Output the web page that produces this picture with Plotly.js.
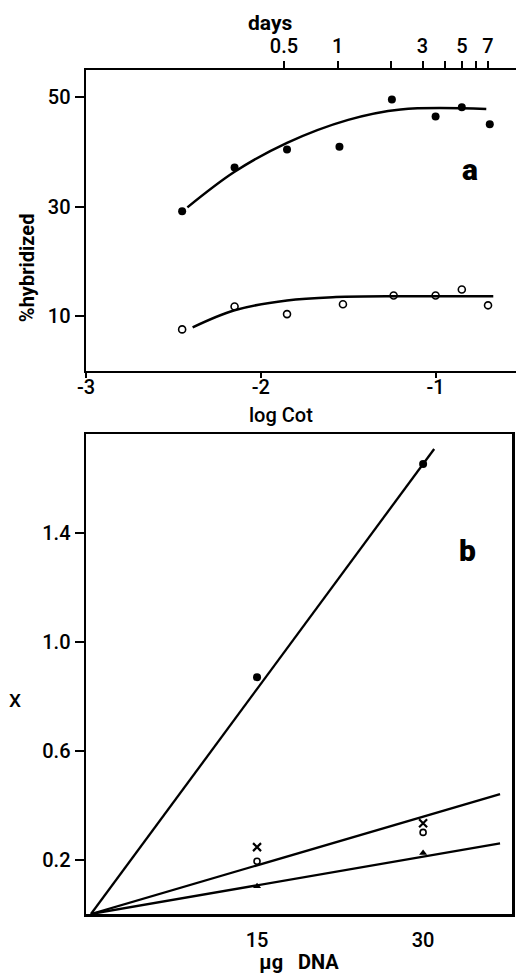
<!DOCTYPE html>
<html>
<head>
<meta charset="utf-8">
<script src="https://cdn.plot.ly/plotly-3.0.1.min.js"></script>
<style>html,body{margin:0;padding:0;background:#fff;}#chart{width:516px;height:974px;}</style>
</head>
<body>
<div id="chart"></div>
<script>
// ---- Panel a: hybridization vs log Cot ----
const logCotFilled = [-2.45, -2.15, -1.85, -1.55, -1.25, -1.0, -0.85, -0.69];
const hybFilled    = [29.2, 37.2, 40.5, 41.0, 49.6, 46.5, 48.2, 45.1];
const logCotOpen   = [-2.45, -2.15, -1.85, -1.53, -1.24, -1.0, -0.85, -0.70];
const hybOpen      = [7.6, 11.8, 10.4, 12.2, 13.8, 13.8, 14.9, 12.0];
const curveFilledX = [-2.42, -2.15, -1.85, -1.50, -1.20, -0.71];
const curveFilledY = [29.9, 36.4, 41.7, 45.9, 47.8, 47.9];
const curveOpenX   = [-2.39, -2.15, -1.85, -1.57, -1.19, -0.67];
const curveOpenY   = [7.97, 11.1, 12.9, 13.5, 13.65, 13.65];
const logCotTicks  = [-3, -2, -1];
const logCotLabels = ["-3", "-2", "-1"];
const hybTicks     = [10, 30, 50];
const hybLabels    = ["10", "30", "50"];
const dayTicks     = [0.5, 1, 2, 3, 4, 5, 6, 7];
const dayLabels    = ["0.5", "1", "", "3", "", "5", "", "7"];

// ---- Panel b: X vs µg DNA ----
const dnaX          = [15, 30];
const filledCircleY = [0.871, 1.655];
const crossY        = [0.246, 0.334];
const openCircleY   = [0.194, 0.300];
const triangleY     = [0.102, 0.224];
const steepLineX = [0, 31.0],  steepLineY = [0, 1.71];
const midLineX   = [0, 36.95], midLineY   = [0, 0.441];
const lowLineX   = [0, 36.95], lowLineY   = [0, 0.26];
const dnaTicks   = [15, 30];
const dnaLabels  = ["15", "30"];
const xTicks     = [0.2, 0.6, 1.0, 1.4];
const xLabels    = ["0.2", "0.6", "1.0", "1.4"];

const FONT = "Roboto, Liberation Sans, Arial, sans-serif";
const tickFont = {family: FONT, size: 20, color: "#000", weight: 500};
const titleFont = {family: FONT, size: 20, color: "#000", weight: 700};

const traces = [
  {x: curveFilledX, y: curveFilledY, mode: "lines", line: {color: "#000", width: 2.5, shape: "spline", smoothing: 1}, xaxis: "x", yaxis: "y", hoverinfo: "skip"},
  {x: curveOpenX, y: curveOpenY, mode: "lines", line: {color: "#000", width: 2.5, shape: "spline", smoothing: 1}, xaxis: "x", yaxis: "y", hoverinfo: "skip"},
  {x: logCotFilled, y: hybFilled, mode: "markers", marker: {symbol: "circle", size: 8, color: "#000"}, xaxis: "x", yaxis: "y"},
  {x: logCotOpen, y: hybOpen, mode: "markers", marker: {symbol: "circle-open", size: 7, color: "#000", line: {width: 1.6, color: "#000"}}, xaxis: "x", yaxis: "y"},
  {x: dayTicks, y: dayTicks.map(() => null), mode: "markers", xaxis: "x2", yaxis: "y", hoverinfo: "skip"},
  // panel b
  {x: steepLineX, y: steepLineY, mode: "lines", line: {color: "#000", width: 2.3}, xaxis: "x3", yaxis: "y2", hoverinfo: "skip"},
  {x: midLineX, y: midLineY, mode: "lines", line: {color: "#000", width: 2.3}, xaxis: "x3", yaxis: "y2", hoverinfo: "skip"},
  {x: lowLineX, y: lowLineY, mode: "lines", line: {color: "#000", width: 2.3}, xaxis: "x3", yaxis: "y2", hoverinfo: "skip"},
  {x: dnaX, y: filledCircleY, mode: "markers", marker: {symbol: "circle", size: 8, color: "#000"}, xaxis: "x3", yaxis: "y2"},
  {x: dnaX, y: crossY, mode: "markers", marker: {symbol: "x-thin-open", size: 8, color: "#000", line: {width: 2.2, color: "#000"}}, xaxis: "x3", yaxis: "y2"},
  {x: dnaX, y: openCircleY, mode: "markers", marker: {symbol: "circle-open", size: 6, color: "#000", line: {width: 1.6, color: "#000"}}, xaxis: "x3", yaxis: "y2"},
  {x: dnaX, y: triangleY, mode: "markers", marker: {symbol: "triangle-up", size: 7, color: "#000"}, xaxis: "x3", yaxis: "y2"}
];

const axisCommon = {showgrid: false, zeroline: false, showline: true, linecolor: "#000", linewidth: 2.5,
  tickcolor: "#000", tickwidth: 2, tickfont: tickFont, tickmode: "array", fixedrange: true};

const layout = {
  width: 516, height: 974,
  margin: {l: 86, r: 0, t: 0, b: 0},
  paper_bgcolor: "#fff", plot_bgcolor: "#fff",
  showlegend: false,
  xaxis: Object.assign({}, axisCommon, {domain: [0, 1], anchor: "y", range: [-3, -0.54],
    tickvals: logCotTicks, ticktext: logCotLabels, ticks: "outside", ticklen: 5, ticklabelstandoff: -8}),
  xaxis2: Object.assign({}, axisCommon, {type: "log", overlaying: "x", side: "top", anchor: "y",
    range: [-1.413, 1.002], tickvals: dayTicks, ticktext: dayLabels, ticks: "outside", ticklen: 7}),
  yaxis: Object.assign({}, axisCommon, {domain: [0.6191, 0.9281], anchor: "x", range: [0, 55],
    tickvals: hybTicks, ticktext: hybLabels, ticks: "outside", ticklen: 9}),
  xaxis3: Object.assign({}, axisCommon, {domain: [0, 0.9907], anchor: "y2", range: [-0.45, 38.03],
    tickvals: dnaTicks, ticktext: dnaLabels, ticks: "", mirror: true, ticklabelstandoff: 6,
    title: {text: "\u03bcg\u00a0\u00a0\u00a0DNA", font: titleFont, standoff: 0}}),
  yaxis2: Object.assign({}, axisCommon, {domain: [0.0616, 0.5544], anchor: "x3", range: [0, 1.765],
    tickvals: xTicks, ticktext: xLabels, ticks: "outside", ticklen: 9, mirror: true}),
  annotations: [
    {text: "days", xref: "paper", yref: "paper", x: 0.428, y: 0.976, showarrow: false, font: {family: FONT, size: 21, color: "#000", weight: 700}, xanchor: "center", yanchor: "middle"},
    {text: "log Cot", xref: "paper", yref: "paper", x: 0.4535, y: 0.5735, showarrow: false, font: {family: FONT, size: 20, color: "#000", weight: 500}, xanchor: "center", yanchor: "middle"},
    {text: "%hybridized", xref: "paper", yref: "paper", x: -0.137, y: 0.7248, showarrow: false, textangle: -90, font: titleFont, xanchor: "center", yanchor: "middle"},
    {text: "X", xref: "paper", yref: "paper", x: -0.165, y: 0.2813, showarrow: false, font: {family: FONT, size: 19, color: "#000", weight: 500}, xanchor: "center", yanchor: "middle"},
    {text: "a", xref: "paper", yref: "paper", x: 0.893, y: 0.8255, showarrow: false, font: {family: FONT, size: 30, color: "#000", weight: 900}, xanchor: "center", yanchor: "middle"},
    {text: "b", xref: "paper", yref: "paper", x: 0.888, y: 0.4353, showarrow: false, font: {family: FONT, size: 30, color: "#000", weight: 900}, xanchor: "center", yanchor: "middle"}
  ]
};

Plotly.newPlot("chart", traces, layout, {displayModeBar: false, staticPlot: true});
</script>
</body>
</html>
